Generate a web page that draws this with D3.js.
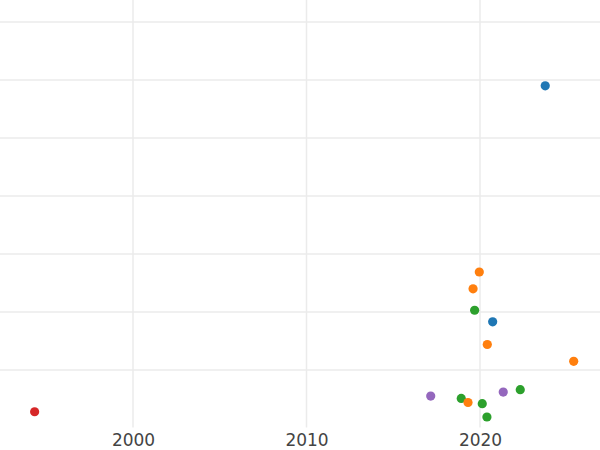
<!DOCTYPE html>
<html>
<head>
<meta charset="utf-8">
<script src="https://cdn.jsdelivr.net/npm/d3@7"></script>
<style>
  body { margin: 0; background: #fff; }
  text { font-family: "DejaVu Sans", sans-serif; }
</style>
</head>
<body>
<svg id="chart" width="600" height="450"></svg>
<script>
// values
var years  = [1994.33, 2017.16, 2018.92, 2019.31, 2020.13, 2020.40, 2021.34, 2022.32,
              2025.40, 2020.42, 2020.73, 2019.69, 2019.60, 2019.96, 2023.76];
var values = [0.28, 0.55, 0.51, 0.44, 0.42, 0.19, 0.62, 0.66,
              1.15, 1.44, 1.83, 2.03, 2.40, 2.69, 5.90];
var groups = ["d", "e", "c", "b", "c", "c", "e", "c",
              "b", "b", "a", "c", "b", "b", "a"];
var groupNames = ["a", "b", "c", "d", "e"];
var xTicks = [2000, 2010, 2020];
var yGrid = [1, 2, 3, 4, 5, 6, 7];

var W = 600, H = 450, bottom = 427.5;
var svg = d3.select("#chart");

var x = d3.scaleLinear().domain([2000, 2020]).range([133, 480]);
var y = d3.scaleLinear().domain([0, 7]).range([428, 22]);
var color = d3.scaleOrdinal().domain(groupNames).range(d3.schemeCategory10.slice(0, 5));

// grid
svg.append("g").selectAll("line").data(yGrid).enter().append("line")
   .attr("x1", 0).attr("x2", W)
   .attr("y1", function(d){ return y(d); }).attr("y2", function(d){ return y(d); })
   .style("stroke", "#ebebeb").style("stroke-width", 1.5);

svg.append("g").selectAll("line").data(xTicks).enter().append("line")
   .attr("x1", function(d){ return x(d); }).attr("x2", function(d){ return x(d); })
   .attr("y1", 0).attr("y2", bottom)
   .style("stroke", "#ebebeb").style("stroke-width", 1.5);

// x axis labels
var xAxis = d3.axisBottom(x).tickValues(xTicks).tickFormat(d3.format("d")).tickSize(0).tickPadding(6);
var ax = svg.append("g").attr("transform", "translate(0," + bottom + ")").call(xAxis);
ax.select(".domain").remove();
ax.selectAll("text").style("font-size", "17px").style("fill", "#444")
  .style("font-family", "'DejaVu Sans', sans-serif");

// points
var pts = years.map(function(v, i){ return {yr: v, val: values[i], g: groups[i]}; });
svg.append("g").selectAll("circle").data(pts).enter().append("circle")
   .attr("cx", function(d){ return x(d.yr); })
   .attr("cy", function(d){ return y(d.val); })
   .attr("r", 4.6)
   .style("fill", function(d){ return color(d.g); });
</script>
</body>
</html>
